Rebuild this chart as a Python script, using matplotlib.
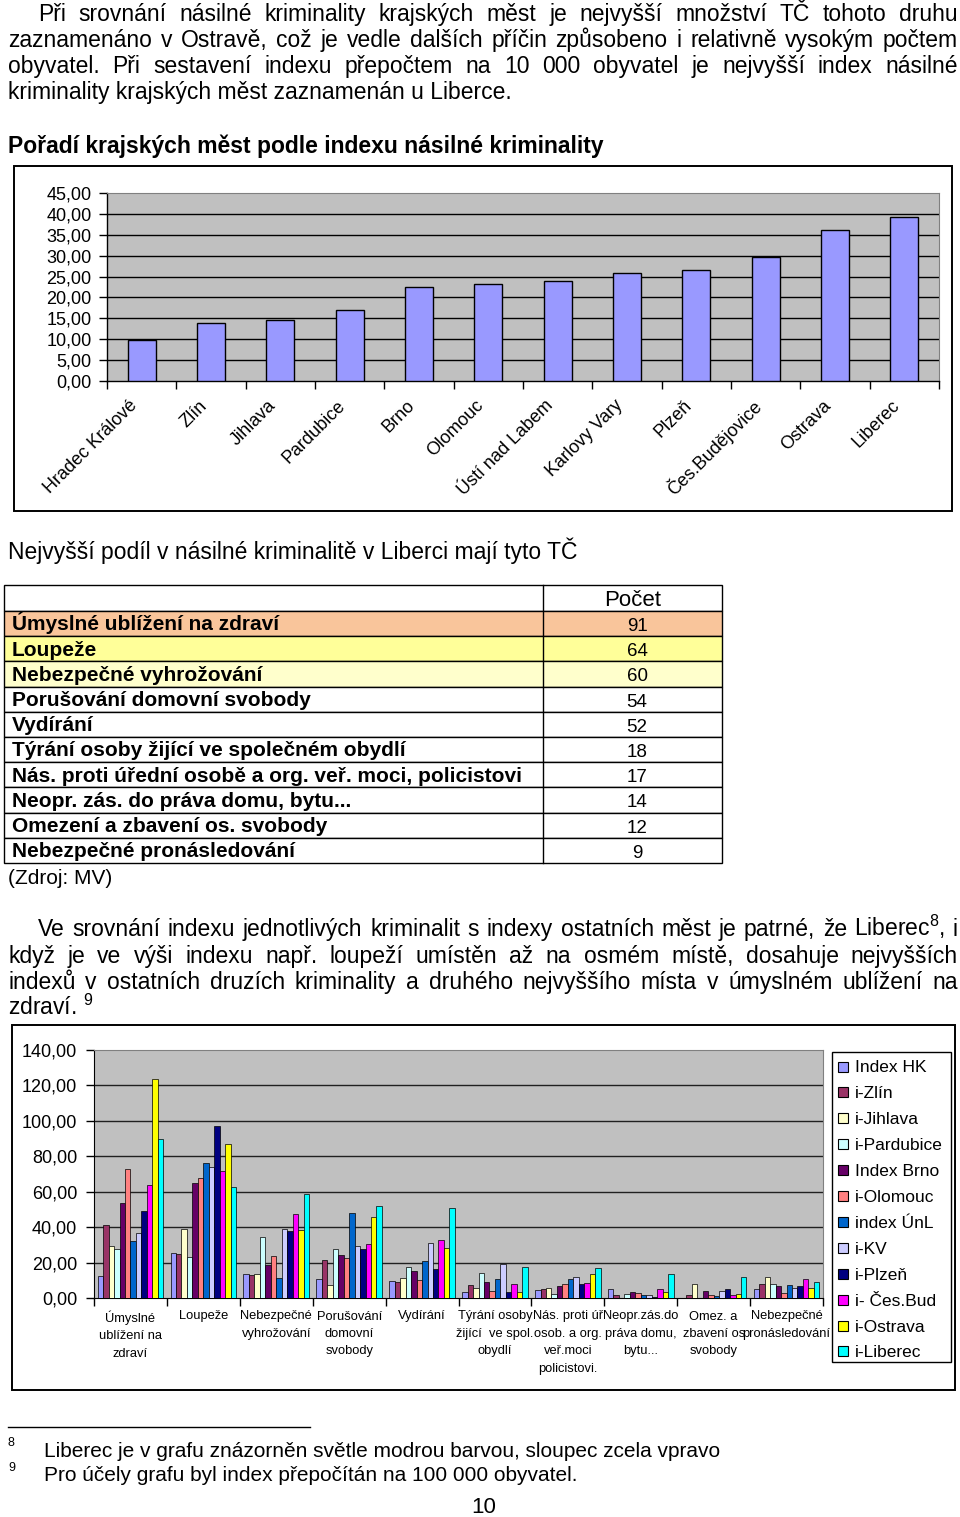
import matplotlib
matplotlib.use('Agg')
import matplotlib.pyplot as plt
from matplotlib.patches import Rectangle
from matplotlib.lines import Line2D
import numpy as np

# ---------------- data ----------------
cities = ['Hradec Králové', 'Zlín', 'Jihlava', 'Pardubice', 'Brno', 'Olomouc',
          'Ústí nad Labem', 'Karlovy Vary', 'Plzeň', 'Čes.Budějovice', 'Ostrava', 'Liberec']
violent_index = [9.7, 14.0, 14.6, 17.1, 22.5, 23.1, 23.9, 25.9, 26.5, 29.7, 36.2, 39.3]
top_yticks = [0, 5, 10, 15, 20, 25, 30, 35, 40, 45]

table_crimes = ['Úmyslné ublížení na zdraví', 'Loupeže', 'Nebezpečné vyhrožování',
                'Porušování domovní svobody', 'Vydírání',
                'Týrání osoby žijící ve společném obydlí',
                'Nás. proti úřední osobě a org. veř. moci, policistovi',
                'Neopr. zás. do práva domu, bytu...', 'Omezení a zbavení os. svobody',
                'Nebezpečné pronásledování']
table_counts = [91, 64, 60, 54, 52, 18, 17, 14, 12, 9]
table_fills = ['#F9C59B', '#FFFF99', '#FFFFCC'] + ['white'] * 7

crime_labels = ['Úmyslné\nublížení na\nzdraví', 'Loupeže', 'Nebezpečné\nvyhrožování',
                'Porušování\ndomovní\nsvobody', 'Vydírání',
                'Týrání osoby\nžijící  ve spol.\nobydlí',
                'Nás. proti úř\nosob. a org.\nveř.moci\npolicistovi.',
                'Neopr.zás.do\npráva domu,\nbytu...', 'Omez. a\nzbavení os\nsvobody',
                'Nebezpečné\npronásledování']
series_names = ['Index HK', 'i-Zlín', 'i-Jihlava', 'i-Pardubice', 'Index Brno', 'i-Olomouc',
                'index ÚnL', 'i-KV', 'i-Plzeň', 'i- Čes.Bud', 'i-Ostrava', 'i-Liberec']
idx_hk = [12.4, 25.2, 13.5, 10.7, 9.4, 3.2, 4.4, 5.3, 0.0, 5.3]
idx_zlin = [41.1, 25.0, 13.0, 21.2, 8.8, 7.5, 5.3, 1.5, 1.5, 7.8]
idx_jihlava = [29.1, 38.9, 13.5, 7.5, 11.5, 5.6, 5.7, 0.0, 7.8, 11.8]
idx_pardubice = [27.6, 23.1, 34.4, 27.4, 17.3, 14.3, 2.3, 2.3, 0.0, 7.8]
idx_brno = [53.7, 65.0, 18.8, 24.0, 15.4, 9.0, 7.0, 3.4, 3.8, 6.9]
idx_olomouc = [72.9, 68.0, 23.7, 22.5, 10.0, 3.8, 7.8, 2.9, 1.7, 2.9]
idx_unl = [32.3, 76.2, 11.5, 47.9, 20.7, 10.5, 10.9, 1.9, 1.0, 7.4]
idx_kv = [36.8, 74.0, 38.7, 29.1, 31.0, 19.2, 11.8, 1.9, 3.8, 5.9]
idx_plzen = [49.0, 97.1, 37.9, 27.6, 16.3, 3.2, 7.8, 0.8, 5.0, 6.5]
idx_cb = [64.0, 71.5, 47.7, 30.4, 32.5, 7.9, 8.2, 5.3, 1.7, 10.9]
idx_ostrava = [123.8, 86.8, 38.3, 46.0, 28.5, 3.2, 13.7, 3.2, 2.3, 5.9]
idx_liberec = [89.6, 62.5, 58.8, 51.8, 50.9, 17.3, 16.8, 13.7, 11.8, 8.8]
series_values = [idx_hk, idx_zlin, idx_jihlava, idx_pardubice, idx_brno, idx_olomouc,
                 idx_unl, idx_kv, idx_plzen, idx_cb, idx_ostrava, idx_liberec]
series_colors = ['#9999FF', '#993366', '#FFFFCC', '#CCFFFF', '#660066', '#FF8080',
                 '#0066CC', '#CCCCFF', '#000080', '#FF00FF', '#FFFF00', '#00FFFF']
bottom_yticks = [0, 20, 40, 60, 80, 100, 120, 140]

# ---------------- figure ----------------
W, H = 960, 1517
FONT = ['Liberation Sans', 'DejaVu Sans']
plt.rcParams['font.family'] = FONT
plt.rcParams['mathtext.fontset'] = 'custom'
plt.rcParams['mathtext.rm'] = 'Liberation Sans'
plt.rcParams['mathtext.it'] = 'Liberation Sans'
plt.rcParams['mathtext.bf'] = 'Liberation Sans:bold'
fig = plt.figure(figsize=(W / 100, H / 100), dpi=100)
fig.patch.set_facecolor('white')
renderer = fig.canvas.get_renderer()


def fx(x):
    return x / W


def fy(y):
    return 1 - y / H


BODY = 16.5


def text_line(y, text, x0, x1=None, size=BODY, weight='normal', family=FONT):
    if x1 is None:
        fig.text(fx(x0), fy(y), text, fontsize=size, weight=weight, va='baseline',
                 ha='left', family=family)
        return
    words = text.split(' ')
    objs = [fig.text(0, fy(y), w, fontsize=size, weight=weight, va='baseline', ha='left',
                     family=family) for w in words]
    widths = [o.get_window_extent(renderer).width for o in objs]
    gap = (x1 - x0 - sum(widths)) / (len(words) - 1)
    x = x0
    for o, w in zip(objs, widths):
        o.set_x(fx(x))
        x += w + gap


# paragraph 1
text_line(21, 'Při srovnání násilné kriminality krajských měst je nejvyšší množství TČ tohoto druhu', 38, 958)
text_line(47, 'zaznamenáno v Ostravě, což je vedle dalších příčin způsobeno i relativně vysokým počtem', 8, 958)
text_line(73, 'obyvatel. Při sestavení indexu přepočtem na 10 000 obyvatel je nejvyšší index násilné', 8, 958)
text_line(99, 'kriminality krajských měst zaznamenán u Liberce.', 8)

# title
text_line(153, 'Pořadí krajských měst podle indexu násilné kriminality', 8, weight='bold')

# ---------------- top chart ----------------
fig.add_artist(Rectangle((fx(14), fy(511)), (952 - 14) / W, (511 - 166) / H,
                         transform=fig.transFigure, fill=False, edgecolor='black', lw=1.4))
ax1 = fig.add_axes([fx(107), fy(381), (939 - 107) / W, (381 - 193) / H])
ax1.set_facecolor('#C0C0C0')
x1 = np.arange(len(cities))
ax1.bar(x1, violent_index, width=0.4, color='#9999FF', edgecolor='black', lw=1.0, zorder=3)
ax1.set_xlim(-0.5, len(cities) - 0.5)
ax1.set_ylim(0, 45)
ax1.set_yticks(top_yticks)
ax1.set_yticklabels([f'{v:.2f}'.replace('.', ',') for v in top_yticks], fontsize=13)
for v in top_yticks[1:-1]:
    ax1.axhline(v, color='black', lw=1.0, zorder=1)
ax1.set_xticks(np.arange(len(cities) + 1) - 0.5)
ax1.set_xticklabels([])
ax1.tick_params(axis='both', direction='out', length=6, width=1, color='black', pad=3)
ax1.tick_params(axis='y', pad=5)
for s in ['top', 'right']:
    ax1.spines[s].set_color('#808080')
for s in ['left', 'bottom']:
    ax1.spines[s].set_color('black')
    ax1.spines[s].set_linewidth(1.0)
for i, c in enumerate(cities):
    ax1.annotate(c, xy=(i, 0), xytext=(-5, -16), textcoords='offset points',
                 rotation=45, ha='right', va='center', rotation_mode='anchor', fontsize=13)

# ---------------- table ----------------
text_line(559, 'Nejvyšší podíl v násilné kriminalitě v Liberci mají tyto TČ', 8)
tx0, tx1, tcol = 4, 722, 543
ttop, thead = 585, 611
rh = (863 - 611) / 10
fig.add_artist(Rectangle((fx(tx0), fy(thead)), (tx1 - tx0) / W, (thead - ttop) / H,
                         transform=fig.transFigure, facecolor='white', edgecolor='black', lw=1.0))
fig.text(fx(633), fy(thead - 5), 'Počet', fontsize=16, ha='center', va='baseline')
for i, (crime, cnt, fc) in enumerate(zip(table_crimes, table_counts, table_fills)):
    top = thead + i * rh
    fig.add_artist(Rectangle((fx(tx0), fy(top + rh)), (tx1 - tx0) / W, rh / H,
                             transform=fig.transFigure, facecolor=fc, edgecolor='black', lw=1.0))
    fig.text(fx(12), fy(top + 19.5), crime, fontsize=15, weight='bold', ha='left', va='baseline')
    fig.text(fx(637), fy(top + 20), str(cnt), fontsize=13.5, ha='center', va='baseline')
fig.add_artist(Line2D([fx(tcol), fx(tcol)], [fy(ttop), fy(863)], transform=fig.transFigure,
                      color='black', lw=1.0))
text_line(884, '(Zdroj: MV)', 8, size=15)

# paragraph 2
text_line(936, 'Ve srovnání indexu jednotlivých kriminalit s indexy ostatních měst je patrné, že Liberec$^{8}$, i', 38, 958)
text_line(963, 'když je ve výši indexu např. loupeží umístěn až na osmém místě, dosahuje nejvyšších', 8, 958)
text_line(989, 'indexů v ostatních druzích kriminality a druhého nejvyššího místa v úmyslném ublížení na', 8, 958)
text_line(1015, 'zdraví. $^{9}$', 8)

# ---------------- bottom chart ----------------
fig.add_artist(Rectangle((fx(12), fy(1390)), (955 - 12) / W, (1390 - 1025) / H,
                         transform=fig.transFigure, fill=False, edgecolor='black', lw=1.4))
ax2 = fig.add_axes([fx(94), fy(1298), (823 - 94) / W, (1298 - 1050) / H])
ax2.set_facecolor('#C0C0C0')
ng = len(crime_labels)
ns = len(series_names)
bw = 0.9 / ns
xg = np.arange(ng)
for k, (vals, col) in enumerate(zip(series_values, series_colors)):
    ax2.bar(xg - 0.45 + bw * (k + 0.5), vals, width=bw, color=col, edgecolor='black',
            lw=0.5, zorder=3)
ax2.set_xlim(-0.5, ng - 0.5)
ax2.set_ylim(0, 140)
ax2.set_yticks(bottom_yticks)
ax2.set_yticklabels([f'{v:.2f}'.replace('.', ',') for v in bottom_yticks], fontsize=13)
for v in bottom_yticks[1:-1]:
    ax2.axhline(v, color='#202020', lw=1.0, zorder=1)
ax2.set_xticks(np.arange(ng + 1) - 0.5)
ax2.set_xticklabels([])
ax2.tick_params(axis='both', direction='out', length=6, width=1, color='black', pad=6)
for s in ['top', 'right']:
    ax2.spines[s].set_color('#808080')
for s in ['left', 'bottom']:
    ax2.spines[s].set_color('black')
for i, lab in enumerate(crime_labels):
    ax2.annotate(lab, xy=(i, 0), xytext=(0, -9), textcoords='offset points', ha='center',
                 va='top', fontsize=9.3, linespacing=1.6)

# legend (manual)
fig.add_artist(Rectangle((fx(832), fy(1362)), (951 - 832) / W, (1362 - 1052) / H,
                         transform=fig.transFigure, facecolor='white', edgecolor='black', lw=1.0))
for k, (name, col) in enumerate(zip(series_names, series_colors)):
    yc = 1066.5 + k * 25.9
    fig.add_artist(Rectangle((fx(838), fy(yc + 5)), 10 / W, 10 / H, transform=fig.transFigure,
                             facecolor=col, edgecolor='black', lw=0.8))
    fig.text(fx(855), fy(yc), name, fontsize=12.5, ha='left', va='center_baseline')

# footnotes
fig.add_artist(Line2D([fx(8), fx(310)], [fy(1427), fy(1427)], transform=fig.transFigure,
                      color='black', lw=1.0))
fig.text(fx(8), fy(1446), '8', fontsize=9, ha='left', va='baseline')
fig.text(fx(8), fy(1471), '9', fontsize=9, ha='left', va='baseline')
text_line(1457, 'Liberec je v grafu znázorněn světle modrou barvou, sloupec zcela vpravo', 44, size=15)
text_line(1481, 'Pro účely grafu byl index přepočítán na 100 000 obyvatel.', 44, size=15)
fig.text(fx(484), fy(1513), '10', fontsize=16, ha='center', va='baseline')

fig.savefig('out.png', dpi=100, facecolor='white')
